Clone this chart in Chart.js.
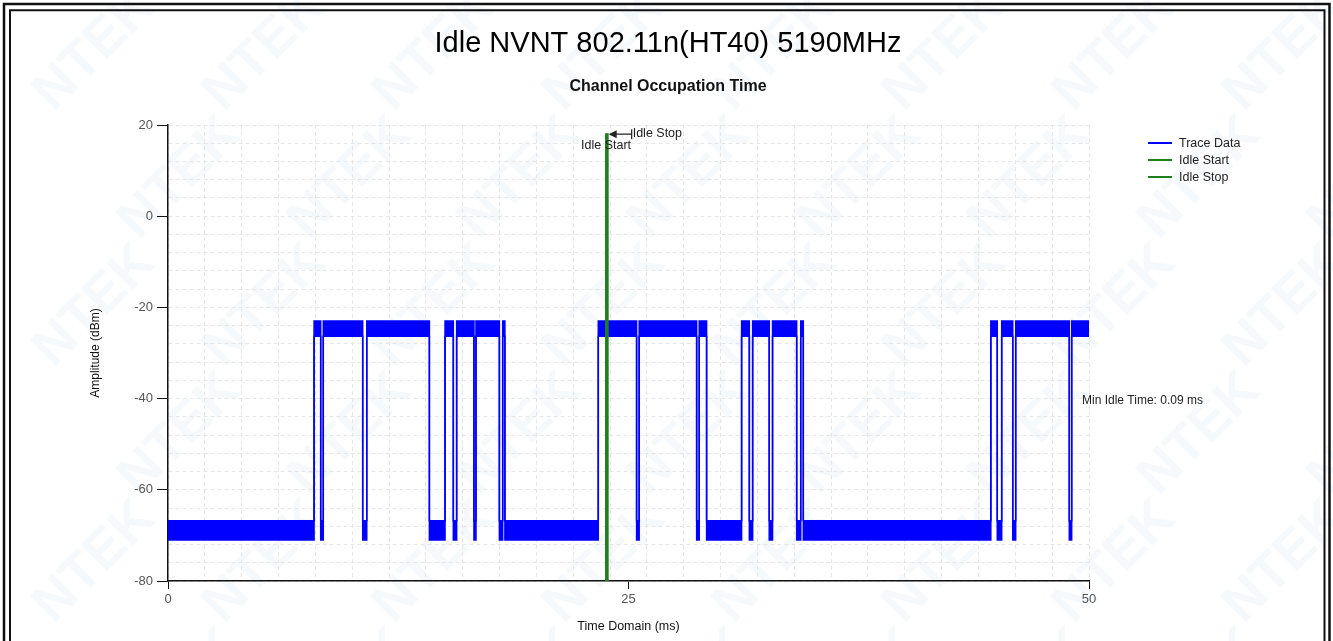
<!DOCTYPE html>
<html>
<head>
<meta charset="utf-8">
<title>Channel Occupation Time</title>
<script src="https://cdn.jsdelivr.net/npm/chart.js@4.4.1/dist/chart.umd.min.js"></script>
<style>
  html, body { margin: 0; padding: 0; background: #fff; }
  #wrap { width: 1333px; height: 641px; }
</style>
</head>
<body>
<div id="wrap"><canvas id="chart" width="1333" height="641"></canvas></div>
<script>
// values
const timeRange = [0, 50];      // ms
const ampRange = [-80, 20];     // dBm
const xTickLabels = [0, 25, 50];
const yTickLabels = [-80, -60, -40, -20, 0, 20];

// busy intervals of the trace (ms)
const burstStart = [7.93, 8.43, 10.79, 15.04, 15.67, 16.72, 18.17, 23.36, 25.58, 28.84,
  31.14, 31.74, 32.82, 34.35, 44.67, 45.26, 46.02, 49.06];
const burstEnd = [8.29, 10.57, 14.19, 15.49, 16.61, 17.99, 18.29, 25.44, 28.70, 29.24,
  31.56, 32.64, 34.13, 34.49, 45.02, 45.86, 48.93, 50];
// noise band top / bottom (dBm)
const busyBand = [-23, -26.3];
const idleBand = [-66.8, -71];

const idleStart = 23.78;
const idleStop = 23.87;
const idleMarkerTop = 18.2;
const minIdleTime = 0.09;

const green = '#1f7f1f';
const blue = '#0000ff';
const font = '"Liberation Sans", Arial, sans-serif';

Chart.defaults.font.family = font;

// stepped outline of the trace band (top or bottom edge)
function envelope(busy, idle) {
  const pts = [{ x: timeRange[0], y: idle }];
  let last = idle;
  burstStart.forEach((t, i) => {
    pts.push({ x: t, y: busy });
    last = busy;
    if (burstEnd[i] < timeRange[1]) {
      pts.push({ x: burstEnd[i], y: idle });
      last = idle;
    }
  });
  pts.push({ x: timeRange[1], y: last });
  return pts;
}

const decor = {
  id: 'decor',
  beforeDraw(chart) {
    const ctx = chart.ctx;
    const w = chart.width, h = chart.height;
    ctx.save();
    ctx.fillStyle = '#fff';
    ctx.fillRect(0, 0, w, h);

    // faint watermark
    ctx.fillStyle = 'rgba(200, 220, 238, 0.16)';
    ctx.font = 'bold 54px ' + font;
    ctx.textAlign = 'center';
    ctx.textBaseline = 'middle';
    for (let row = 0; row < 6; row++) {
      for (let col = 0; col < 9; col++) {
        const cx = 95 + col * 170 + (row % 2) * 85;
        const cy = 50 + row * 128;
        ctx.save();
        ctx.translate(cx, cy);
        ctx.rotate(-Math.PI / 4);
        ctx.fillText('NTEK', 0, 0);
        ctx.restore();
      }
    }

    // double frame
    ctx.strokeStyle = '#111';
    ctx.lineWidth = 2.5;
    ctx.beginPath();
    ctx.moveTo(4, h + 10); ctx.lineTo(4, 4); ctx.lineTo(1329.5, 4); ctx.lineTo(1329.5, h + 10);
    ctx.stroke();
    ctx.lineWidth = 2;
    ctx.beginPath();
    ctx.moveTo(10, h + 10); ctx.lineTo(10, 10.3); ctx.lineTo(1324.5, 10.3); ctx.lineTo(1324.5, h + 10);
    ctx.stroke();

    // titles
    ctx.fillStyle = '#000';
    ctx.font = '29px ' + font;
    ctx.fillText('Idle NVNT 802.11n(HT40) 5190MHz', 668, 44);
    ctx.fillStyle = '#111';
    ctx.font = 'bold 16px ' + font;
    ctx.fillText('Channel Occupation Time', 668, 87);
    ctx.restore();
  },
  afterDraw(chart) {
    const ctx = chart.ctx;
    const xs = chart.scales.x, ys = chart.scales.y;
    ctx.save();

    // legend
    const items = [['Trace Data', blue], ['Idle Start', green], ['Idle Stop', green]];
    ctx.font = '12.5px ' + font;
    ctx.textAlign = 'left';
    ctx.textBaseline = 'middle';
    items.forEach(([name, col], i) => {
      const y = 143 + i * 17;
      ctx.strokeStyle = col;
      ctx.lineWidth = 2;
      ctx.beginPath();
      ctx.moveTo(1148, y); ctx.lineTo(1172, y);
      ctx.stroke();
      ctx.fillStyle = '#222';
      ctx.fillText(name, 1179, y + 1);
    });

    // idle start / stop markers
    const xStart = xs.getPixelForValue(idleStart);
    const xStop = xs.getPixelForValue(idleStop);
    const yA = ys.getPixelForValue(idleMarkerTop) + 1;
    const xEnd = xStop + 24;
    ctx.strokeStyle = '#222';
    ctx.fillStyle = '#222';
    ctx.lineWidth = 1.2;
    ctx.beginPath();
    ctx.moveTo(xStop + 6, yA); ctx.lineTo(xEnd, yA);
    ctx.moveTo(xEnd, yA - 5); ctx.lineTo(xEnd, yA + 5);
    ctx.stroke();
    ctx.beginPath();
    ctx.moveTo(xStop + 1, yA); ctx.lineTo(xStop + 9, yA - 4); ctx.lineTo(xStop + 9, yA + 4);
    ctx.closePath();
    ctx.fill();
    ctx.font = '12.5px ' + font;
    ctx.fillText('Idle Stop', xEnd + 1, yA - 1);
    ctx.textAlign = 'center';
    ctx.fillText('Idle Start', xStart, yA + 11);

    ctx.textAlign = 'left';
    ctx.font = '12px ' + font;
    ctx.fillText('Min Idle Time: ' + minIdleTime.toFixed(2) + ' ms', chart.chartArea.right - 7, ys.getPixelForValue(-40) + 2);
    ctx.restore();
  }
};

const gridColor = '#e6e6e6';

new Chart(document.getElementById('chart'), {
  type: 'line',
  data: {
    datasets: [
      {
        label: 'Trace Data',
        data: envelope(busyBand[0], idleBand[0]),
        borderColor: blue,
        borderWidth: 1.5,
        stepped: true,
        pointRadius: 0,
        fill: false,
        order: 2,
      },
      {
        label: 'trace-low',
        data: envelope(busyBand[1], idleBand[1]),
        borderColor: blue,
        backgroundColor: blue,
        borderWidth: 1.5,
        stepped: true,
        pointRadius: 0,
        fill: '-1',
        order: 2,
      },
      {
        label: 'Idle Start',
        data: [{ x: idleStart, y: ampRange[0] }, { x: idleStart, y: idleMarkerTop }],
        borderColor: green,
        borderWidth: 2,
        pointRadius: 0,
        order: 1,
      },
      {
        label: 'Idle Stop',
        data: [{ x: idleStop, y: ampRange[0] }, { x: idleStop, y: idleMarkerTop }],
        borderColor: green,
        borderWidth: 2,
        pointRadius: 0,
        order: 1,
      },
    ],
  },
  options: {
    responsive: false,
    animation: false,
    events: [],
    layout: { padding: { top: 125, right: 244, bottom: 0, left: 0 } },
    plugins: {
      legend: { display: false },
      tooltip: { enabled: false },
    },
    scales: {
      x: {
        type: 'linear',
        min: timeRange[0],
        max: timeRange[1],
        afterBuildTicks: (scale) => {
          const vals = [];
          for (let v = timeRange[0]; v <= timeRange[1]; v += 2) vals.push(v);
          xTickLabels.forEach(v => { if (!vals.includes(v)) vals.push(v); });
          vals.sort((a, b) => a - b);
          scale.ticks = vals.map(v => ({ value: v }));
        },
        afterFit: (scale) => { scale.height = 60; },
        ticks: {
          autoSkip: false,
          maxRotation: 0,
          color: '#555',
          font: { size: 13 },
          padding: 3,
          callback: (v) => (xTickLabels.includes(v) ? String(v) : ''),
        },
        grid: {
          color: (c) => (c.tick && c.tick.value % 2 === 0 ? gridColor : 'transparent'),
          tickColor: (c) => (c.tick && xTickLabels.includes(c.tick.value) ? '#111' : 'transparent'),
          tickLength: 8,
          lineWidth: 1,
        },
        border: { color: '#111', width: 1.5, dash: [4, 3] },
        title: {
          display: true,
          text: 'Time Domain (ms)',
          color: '#111',
          font: { size: 12.5 },
          padding: { top: 0, bottom: 7 },
        },
      },
      y: {
        type: 'linear',
        min: ampRange[0],
        max: ampRange[1],
        afterFit: (scale) => { scale.width = 168; },
        ticks: {
          stepSize: 4,
          autoSkip: false,
          color: '#555',
          font: { size: 13 },
          padding: 4,
          callback: (v) => (yTickLabels.includes(v) ? String(v) : ''),
        },
        grid: {
          color: gridColor,
          tickColor: (c) => (c.tick && yTickLabels.includes(c.tick.value) ? '#111' : 'transparent'),
          tickLength: 11,
          lineWidth: 1,
        },
        border: { color: '#111', width: 1.5, dash: [4, 3] },
        title: {
          display: true,
          text: 'Amplitude (dBm)',
          color: '#111',
          font: { size: 12 },
          padding: { top: 88, bottom: 0 },
        },
      },
    },
  },
  plugins: [decor],
});
</script>
</body>
</html>
